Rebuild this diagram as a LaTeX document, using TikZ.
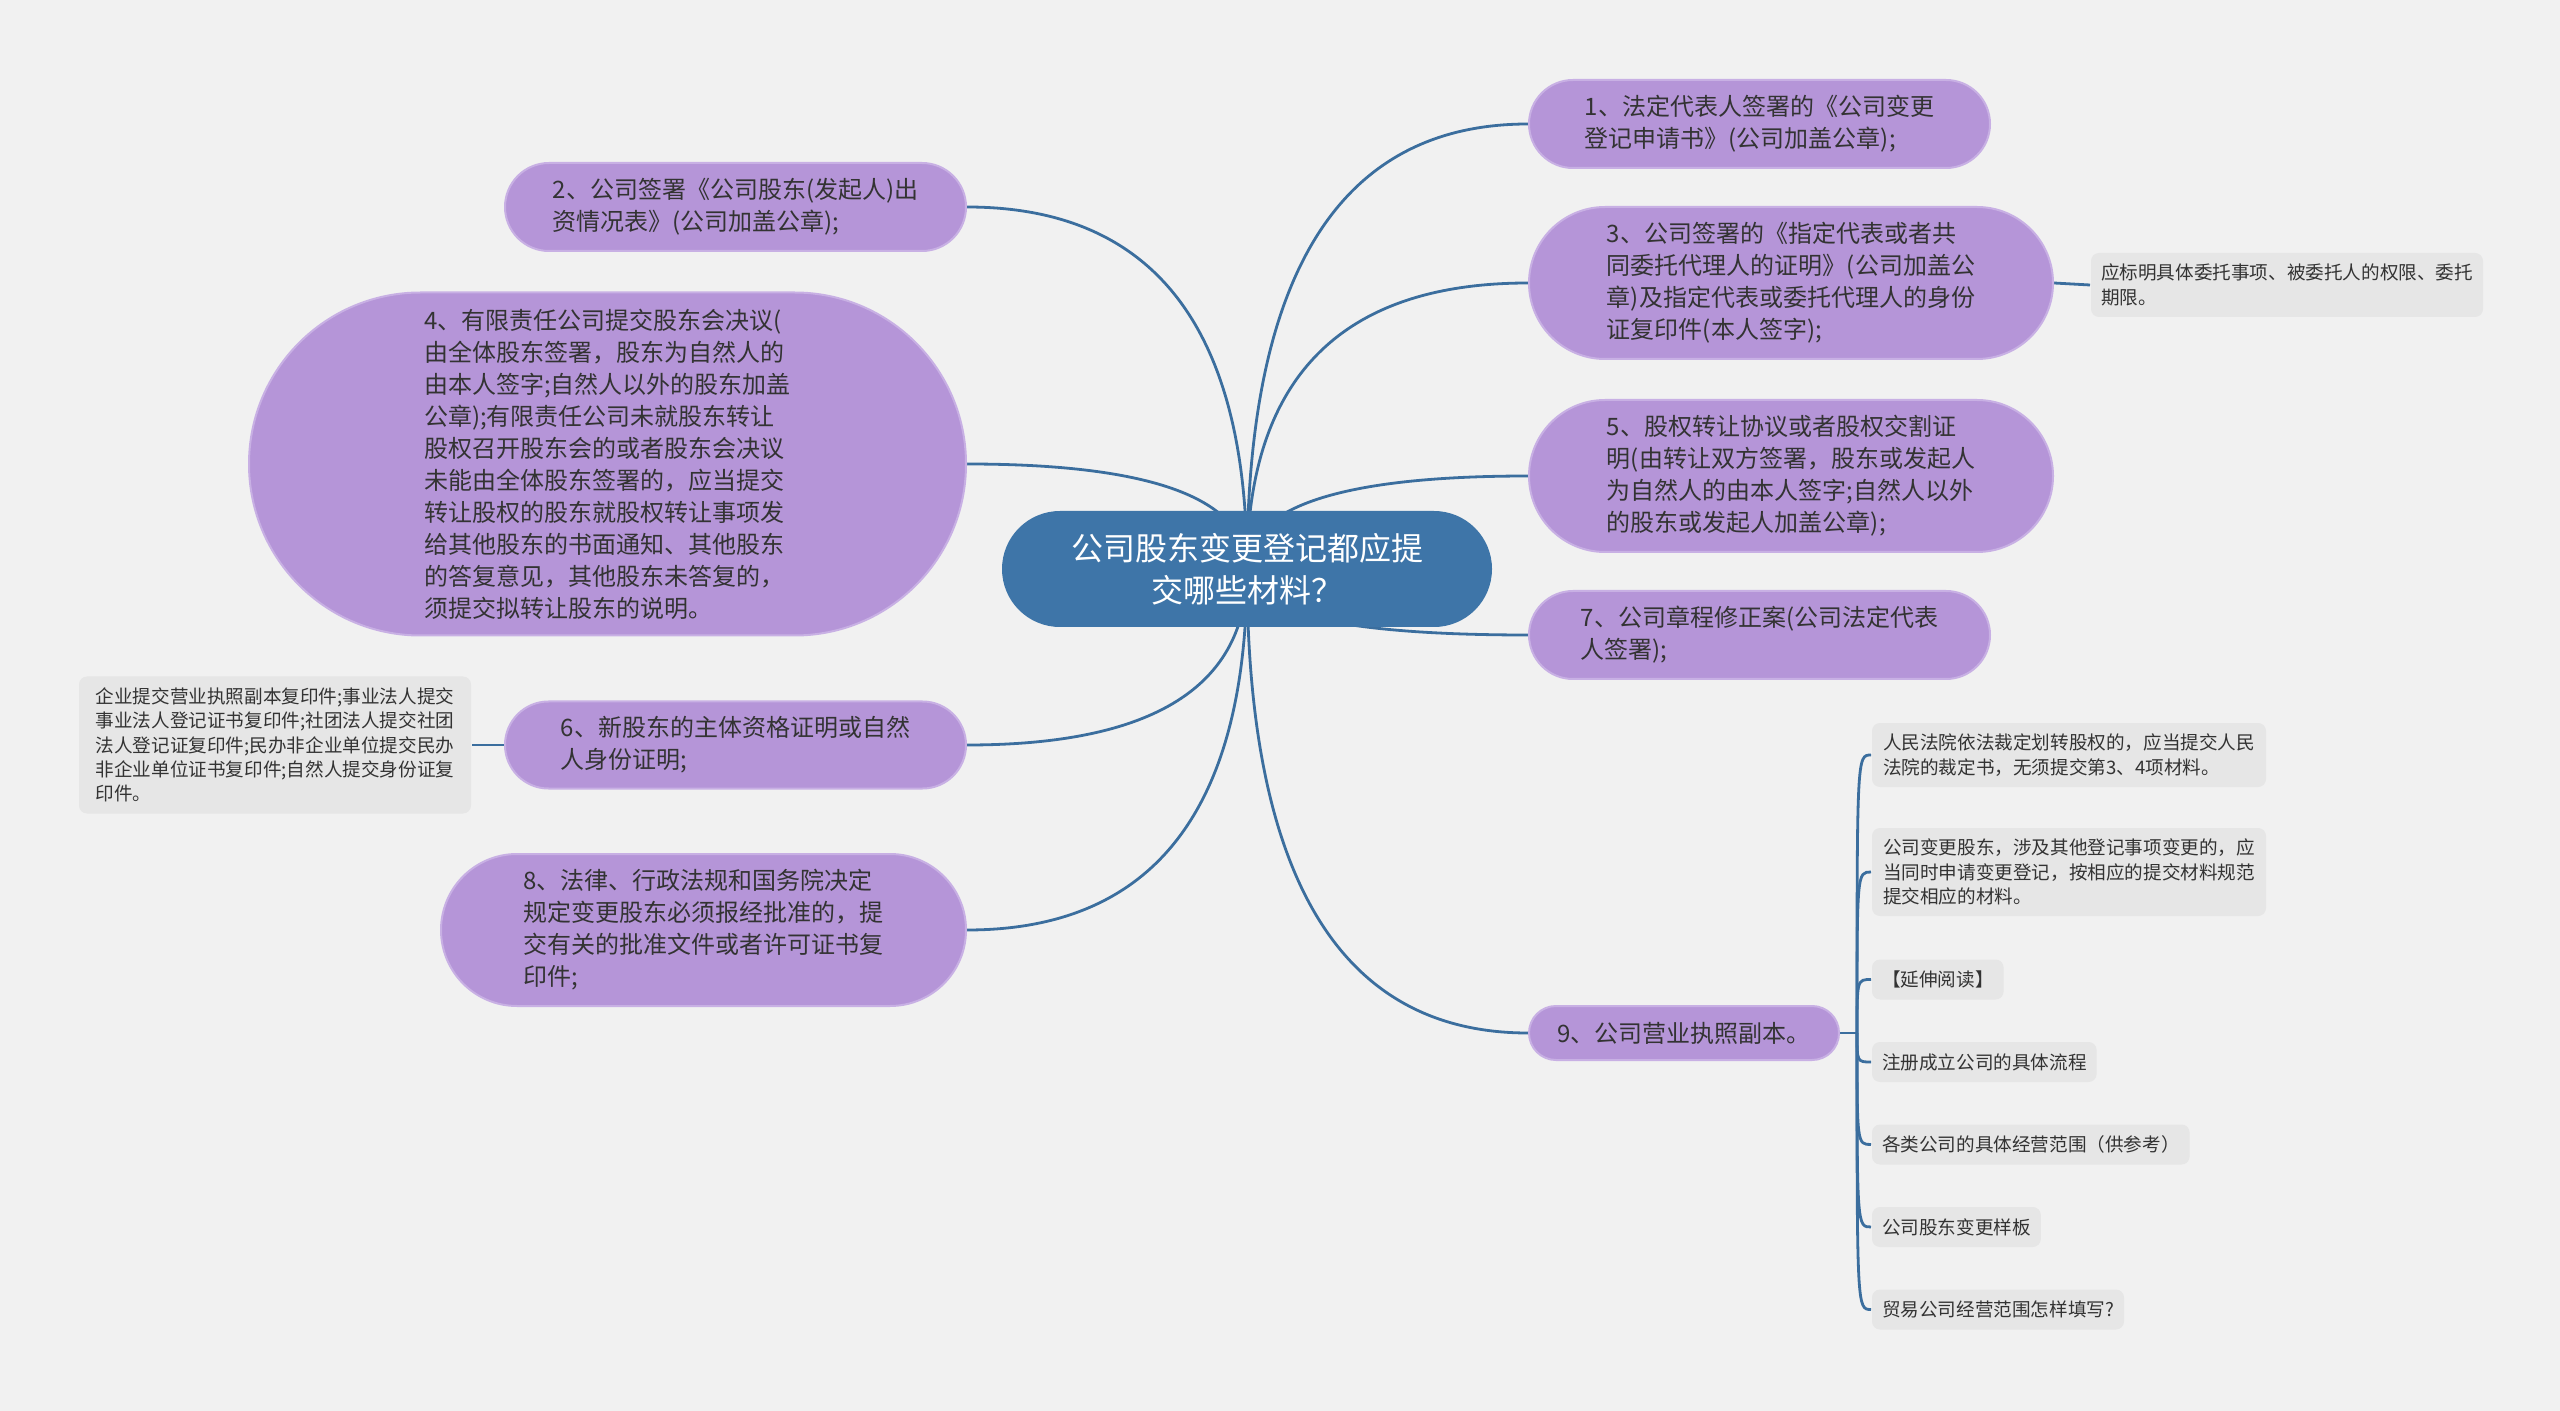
\documentclass[tikz,border=0pt]{standalone}
\usepackage{fontspec}
\setmainfont{Noto Sans CJK SC}
\usetikzlibrary{calc,
                backgrounds,
                positioning,
                shapes.misc}
\definecolor{bgcol}{HTML}{F1F1F1}
\definecolor{rootcol}{HTML}{3E75A8}
\definecolor{branchcol}{HTML}{B595D8}
\definecolor{branchline}{HTML}{C8B0E4}
\definecolor{notecol}{HTML}{E6E6E6}
\definecolor{linkcol}{HTML}{3B6E9E}
\definecolor{txtcol}{HTML}{333333}
\tikzset{
every picture/.style={
line width=1pt
}}

\begin{document}
\begin{tikzpicture}[x=0.5pt, y=-0.5pt,
      base/.style = {inner sep=0pt, align=left, text=txtcol},
      root/.style = {base, rounded rectangle, fill=rootcol, text=white,
                     align=center, minimum width=245pt, minimum height=58pt,
                     font=\fontsize{16}{20.8}\selectfont},
    branch/.style = {base, rounded rectangle, fill=branchcol, draw=branchline,
                     font=\fontsize{12}{16}\selectfont},
      note/.style = {base, rectangle, rounded corners=4pt, fill=notecol,
                     inner xsep=5pt, anchor=west, minimum height=20pt,
                     font=\fontsize{9.3}{12.2}\selectfont},
      link/.style = {draw=linkcol, line width=1.4pt}
                    ]
\useasboundingbox (0,0) rectangle (2560,1411);
\node [root] (root) at (1247,569) {公司股东变更登记都应提\\交哪些材料？};
% right side
\node [branch, anchor=west, minimum width=230.5pt, minimum height=44pt] (b1) at (1528,124)
      {1、法定代表人签署的《公司变更\\登记申请书》(公司加盖公章);};
\node [branch, anchor=west, minimum width=262pt, minimum height=76pt] (b3) at (1528,283)
      {3、公司签署的《指定代表或者共\\同委托代理人的证明》(公司加盖公\\章)及指定代表或委托代理人的身份\\证复印件(本人签字);};
\node [branch, anchor=west, minimum width=262pt, minimum height=76pt] (b5) at (1528,476)
      {5、股权转让协议或者股权交割证\\明(由转让双方签署，股东或发起人\\为自然人的由本人签字;自然人以外\\的股东或发起人加盖公章);};
\node [branch, anchor=west, minimum width=230.5pt, minimum height=44pt] (b7) at (1528,635)
      {7、公司章程修正案(公司法定代表\\人签署);};
\node [branch, anchor=west, minimum width=155pt, minimum height=27pt] (b9) at (1528,1033)
      {9、公司营业执照副本。};
% left side
\node [branch, anchor=east, minimum width=230.5pt, minimum height=44pt] (b2) at (967,207)
      {2、公司签署《公司股东(发起人)出\\资情况表》(公司加盖公章);};
\node [branch, anchor=east, minimum width=358.5pt, minimum height=171.5pt] (b4) at (967,464)
      {4、有限责任公司提交股东会决议(\\由全体股东签署，股东为自然人的\\由本人签字;自然人以外的股东加盖\\公章);有限责任公司未就股东转让\\股权召开股东会的或者股东会决议\\未能由全体股东签署的，应当提交\\转让股权的股东就股权转让事项发\\给其他股东的书面通知、其他股东\\的答复意见，其他股东未答复的，\\须提交拟转让股东的说明。};
\node [branch, anchor=east, minimum width=230.5pt, minimum height=43.5pt] (b6) at (967,745)
      {6、新股东的主体资格证明或自然\\人身份证明;};
\node [branch, anchor=east, minimum width=262.5pt, minimum height=76pt] (b8) at (967,930)
      {8、法律、行政法规和国务院决定\\规定变更股东必须报经批准的，提\\交有关的批准文件或者许可证书复\\印件;};
% notes
\node [note, minimum width=195pt, minimum height=32pt] (n3) at (2090,285)
      {应标明具体委托事项、被委托人的权限、委托\\期限。};
\node [note, anchor=east, minimum width=196pt, minimum height=68.5pt] (n6) at (472,745)
      {企业提交营业执照副本复印件;事业法人提交\\事业法人登记证书复印件;社团法人提交社团\\法人登记证复印件;民办非企业单位提交民办\\非企业单位证书复印件;自然人提交身份证复\\印件。};
\node [note, minimum width=197pt, minimum height=32pt] (s1) at (1871,755)
      {人民法院依法裁定划转股权的，应当提交人民\\法院的裁定书，无须提交第3、4项材料。};
\node [note, minimum width=197pt, minimum height=44pt] (s2) at (1871,872)
      {公司变更股东，涉及其他登记事项变更的，应\\当同时申请变更登记，按相应的提交材料规范\\提交相应的材料。};
\foreach \txt [count=\i from 3] in {【延伸阅读】, 注册成立公司的具体流程,
    各类公司的具体经营范围（供参考）, 公司股东变更样板, 贸易公司经营范围怎样填写?}
  \node [note] (s\i) at (1871,{979.5+82.5*(\i-3)}) {\txt};
%%
\begin{pgfonlayer}{background}
\fill [bgcol] (0,0) rectangle (2560,1411);
\foreach \b/\a in {b1/west, b3/west, b5/west, b7/west, b9/west,
                   b2/east, b4/east, b6/east, b8/east} {
  \coordinate (ctl) at (root.center |- \b.\a);
  \draw [link] (root.center) .. controls ($(root.center)!2/3!(ctl)$)
        and ($(\b.\a)!2/3!(ctl)$) .. (\b.\a);
}
\draw [link] (b3.east) -- (n3.west);
\draw [link] (b6.west) -- (n6.east);
\coordinate (hub) at ([xshift=8.5pt]b9.east);
\draw [link] (b9.east) -- (hub);
\foreach \s in {1,...,7}
  \draw [link] (hub) .. controls (hub |- s\s.west) .. (s\s.west);
\end{pgfonlayer}
\end{tikzpicture}
\end{document}
